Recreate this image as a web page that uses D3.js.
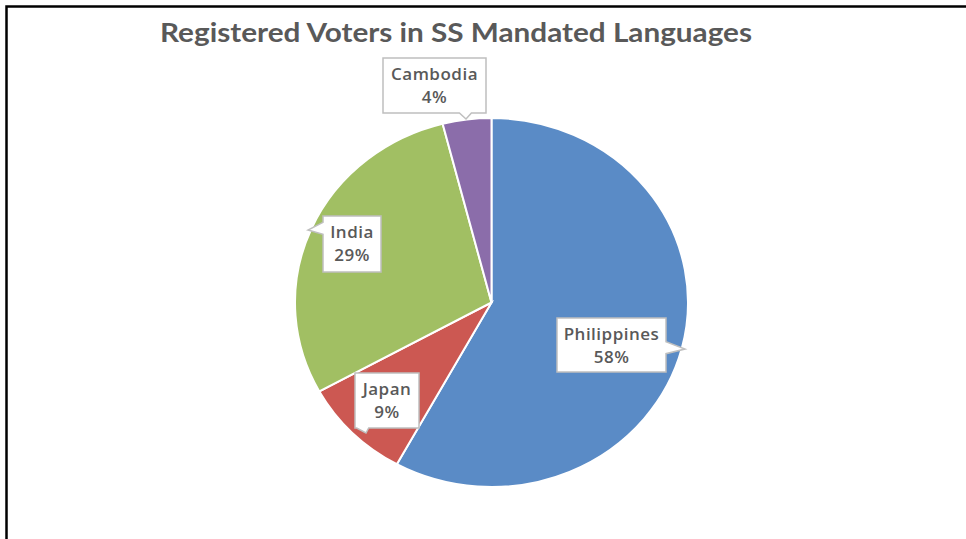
<!DOCTYPE html>
<html>
<head>
<meta charset="utf-8">
<script src="https://cdn.jsdelivr.net/npm/d3@7"></script>
<style>
  html, body { margin: 0; padding: 0; background: #fff; }
  svg { display: block; }
</style>
</head>
<body>
<svg id="chart" width="966" height="539"></svg>
<script>
// Share of registered voters per mandated language group
const categories = ["Philippines", "Japan", "India", "Cambodia"];
const values = [58, 9, 29, 4];
const colors = ["#5A8BC6", "#CC5852", "#A1BF63", "#8B6DAA"];
const title = "Registered Voters in SS Mandated Languages";

const svg = d3.select("#chart");
const W = 966, H = 539;

// outer frame (only top and left edges fall inside the page)
svg.append("rect")
  .attr("x", 6.5).attr("y", 6.5)
  .attr("width", W + 20).attr("height", H + 20)
  .attr("fill", "#fff")
  .attr("stroke", "#000").attr("stroke-width", 2.5);

svg.append("text")
  .attr("x", 456).attr("y", 42)
  .attr("text-anchor", "middle")
  .attr("font-family", "Lato, 'Open Sans', sans-serif")
  .attr("font-weight", 700)
  .attr("font-size", 26)
  .attr("fill", "#595959")
  .attr("textLength", 592)
  .attr("lengthAdjust", "spacingAndGlyphs")
  .text(title);

// pie geometry (slightly wider than tall)
const cx = 491.5, cy = 302.5, r = 184.5, sx = 1.065;
const total = d3.sum(values);

const pie = d3.pie().sort(null).value(d => d)(values);
const arc = d3.arc().innerRadius(0).outerRadius(r);

const g = svg.append("g")
  .attr("transform", `translate(${cx},${cy}) scale(${sx},1)`);

g.selectAll("path.slice")
  .data(pie)
  .join("path")
  .attr("class", "slice")
  .attr("d", arc)
  .attr("fill", (d, i) => colors[i])
  .attr("stroke", "#fff")
  .attr("stroke-width", 2)
  .attr("vector-effect", "non-scaling-stroke");

// callout boxes: box rectangle, which side carries the pointer, and where along it the pointer sits
const callouts = [
  { box: [557, 318, 109, 54], side: "right", at: 0.55 },
  { box: [355, 373, 64, 55], side: "bottom", at: 0.12 },
  { box: [323, 216, 58, 56], side: "left", at: 0.22 },
  { box: [383, 58, 103, 55], side: "bottom", at: 0.80 }
];

// pointer tips resting on the slice edges
const tips = [[685, 349], [366, 433], [308, 230], [466, 119]];

function calloutPath(c, tip) {
  const [x, y, w, h] = c.box;
  const p = 6;
  if (c.side === "right") {
    const py = y + h * c.at;
    return `M${x},${y}H${x + w}V${py - p}L${tip[0]},${tip[1]}L${x + w},${py + p}V${y + h}H${x}Z`;
  }
  if (c.side === "left") {
    const py = y + h * c.at;
    return `M${x},${y}H${x + w}V${y + h}H${x}V${py + p}L${tip[0]},${tip[1]}L${x},${py - p}Z`;
  }
  // bottom
  const px = x + w * c.at;
  return `M${x},${y}H${x + w}V${y + h}H${px + p}L${tip[0]},${tip[1]}L${px - p},${y + h}H${x}Z`;
}

const labels = svg.append("g");
callouts.forEach((c, i) => {
  const tip = tips[i];
  labels.append("path")
    .attr("d", calloutPath(c, tip))
    .attr("fill", "#fff")
    .attr("stroke", "#BFBFBF")
    .attr("stroke-width", 1.5);
  const [x, y, w, h] = c.box;
  const t = labels.append("text")
    .attr("text-anchor", "middle")
    .attr("font-family", "'Open Sans', sans-serif")
    .attr("font-weight", 600)
    .attr("font-size", 17)
    .attr("letter-spacing", 0.5)
    .attr("fill", "#595959");
  t.append("tspan").attr("x", x + w / 2).attr("y", y + 22).text(categories[i]);
  t.append("tspan").attr("x", x + w / 2).attr("y", y + 45)
    .text(Math.round(values[i] / total * 100) + "%");
});
</script>
</body>
</html>
